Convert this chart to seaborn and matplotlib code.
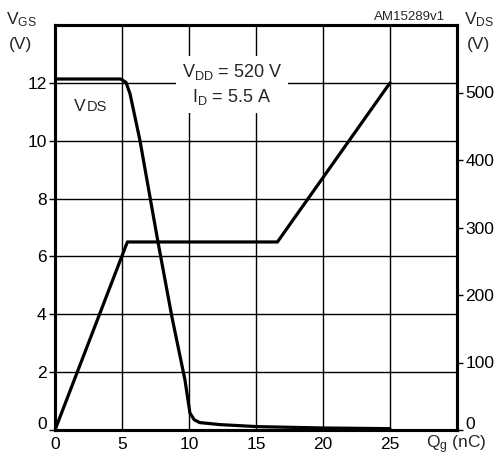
import matplotlib
matplotlib.use("Agg")
import matplotlib.pyplot as plt
import matplotlib.transforms as mtransforms
import seaborn as sns
import pandas as pd

# Data
qg_vgs = [0, 5.4, 16.6, 25]
vgs = [0, 6.5, 6.5, 12]

qg_vds = [0, 4.9, 5.3, 5.6, 6.34, 7.09, 7.69, 8.73, 9.7, 10.07, 10.4, 10.8, 12.3, 15.1, 20, 25]
vds = [520, 520, 515, 498, 429, 345, 278, 167, 74, 25, 15, 11, 8, 5, 3, 2]

x_ticks = [0, 5, 10, 15, 20, 25]
vgs_ticks = [0, 2, 4, 6, 8, 10, 12]
vds_ticks = [0, 100, 200, 300, 400, 500]

sns.set_theme(style="white")
plt.rcParams['font.family'] = ['Liberation Sans', 'DejaVu Sans']
plt.rcParams['mathtext.fontset'] = 'custom'
plt.rcParams['mathtext.rm'] = 'Liberation Sans'
plt.rcParams['mathtext.it'] = 'Liberation Sans'

fig = plt.figure(figsize=(5.03, 4.57), dpi=100)
ax = fig.add_axes([55/503, 1-430/457, (457-55)/503, (430-25)/457])
ax2 = ax.twinx()

df1 = pd.DataFrame({"q": qg_vgs, "v": vgs})
df2 = pd.DataFrame({"q": qg_vds, "v": vds})
sns.lineplot(data=df1, x="q", y="v", ax=ax, color="black", linewidth=2.3, zorder=5)
sns.lineplot(data=df2, x="q", y="v", ax=ax2, color="black", linewidth=2.3, zorder=5)

ax.set_xlim(0, 30)
ax.set_ylim(0, 14)
ax2.set_ylim(0, 600)
ax.set_xticks(x_ticks)
ax.set_yticks(vgs_ticks)
ax2.set_yticks(vds_ticks)
ax.set_xlabel("")
ax.set_ylabel("")
ax2.set_xlabel("")
ax2.set_ylabel("")

ax.grid(True, color="black", linewidth=1.0)
ax2.grid(False)
for a in (ax, ax2):
    for s in a.spines.values():
        s.set_linewidth(2.2)
        s.set_color("black")
ax.tick_params(axis="y", direction="out", length=4, width=1, color="black",
               labelsize=12.5, pad=2, left=True, labelcolor="black")
ax.tick_params(axis="x", length=0, labelsize=12.5, pad=5, labelcolor="black")
ax2.tick_params(axis="y", direction="out", length=4, width=1, color="black",
                labelsize=12.5, pad=2, right=True, labelcolor="black")

# nudge the two zero labels up a little, as in the reference
shift = mtransforms.ScaledTranslation(0, 5/72, fig.dpi_scale_trans)
for lab in (ax.get_yticklabels()[0], ax2.get_yticklabels()[0]):
    lab.set_transform(lab.get_transform() + shift)

# Text annotations
fig.text(21/503, 1-20/457, r"V$_{\mathrm{GS}}$", fontsize=12.5, ha="center", va="center")
fig.text(21/503, 1-45/457, "(V)", fontsize=12.5, ha="center", va="center")
fig.text(479/503, 1-20/457, r"V$_{\mathrm{DS}}$", fontsize=12.5, ha="center", va="center")
fig.text(478/503, 1-45/457, "(V)", fontsize=12.5, ha="center", va="center")
fig.text(445/503, 1-17/457, "AM15289v1", fontsize=9.5, ha="right", va="center")
fig.text(456/503, 1-445/457, r"Q$_{\mathrm{g}}$ (nC)", fontsize=12.5, ha="center", va="center")

ax.text(13.2, 11.95, "V$_{\\mathrm{DD}}$ = 520 V\nI$_{\\mathrm{D}}$ = 5.5 A", fontsize=13,
        ha="center", va="center", linespacing=1.35,
        bbox=dict(facecolor="white", edgecolor="none", pad=4), zorder=6)
ax.text(1.4, 11.2, "V", fontsize=12.5, ha="left", va="center", zorder=6)
ax.text(2.4, 11.15, "DS", fontsize=10.5, ha="left", va="center", zorder=6)

fig.savefig("out.png", dpi=100)
